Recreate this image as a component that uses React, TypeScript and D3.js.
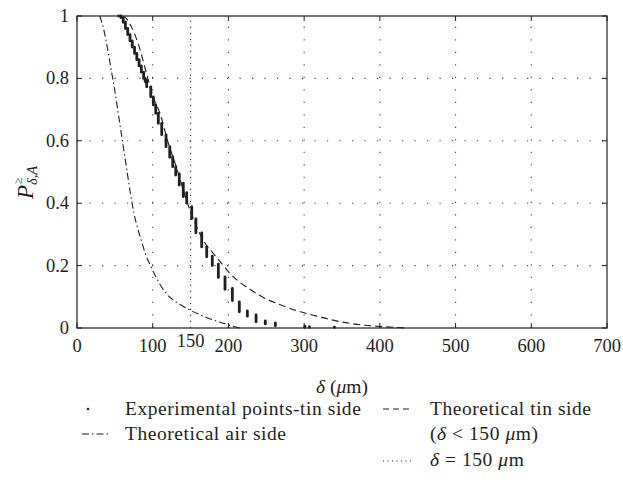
import React from "react";
import * as d3 from "d3";

// ---- data ----
const xTickValues = [0, 100, 200, 300, 400, 500, 600, 700];
const yTickValues = [0, 0.2, 0.4, 0.6, 0.8, 1];
const yTickLabels = ["0", "0.2", "0.4", "0.6", "0.8", "1"];
const gridX = [100, 200, 300, 400, 500, 600];
const gridY = [0.2, 0.4, 0.6, 0.8];
const deltaLine = 150;

// experimental points (tin side): each cluster at one δ spans P from high to low
const expDelta = [55, 58, 61, 64, 67, 70, 73, 76, 79, 82, 85, 88, 90, 92, 97.4, 100.8, 104, 107.4, 111.9, 117.6, 122.5, 126.4, 130.4, 135.1, 140.4, 144.9, 151.5, 157, 164.7, 171.3, 178.7, 186.7, 195.5, 205.2, 214.4, 225, 236.5, 248.7, 262, 301, 307, 340];
const expPHigh = [1.0, 1.0, 0.995, 0.98, 0.96, 0.94, 0.92, 0.9, 0.88, 0.86, 0.84, 0.82, 0.8, 0.795, 0.773, 0.741, 0.715, 0.688, 0.656, 0.619, 0.581, 0.549, 0.517, 0.494, 0.464, 0.434, 0.389, 0.35, 0.305, 0.26, 0.23, 0.205, 0.164, 0.127, 0.084, 0.055, 0.042, 0.023, 0.016, 0.006, 0.004, 0.003];
const expPLow = [1.0, 0.995, 0.98, 0.96, 0.94, 0.92, 0.9, 0.88, 0.86, 0.84, 0.82, 0.8, 0.79, 0.773, 0.741, 0.715, 0.688, 0.656, 0.619, 0.581, 0.547, 0.517, 0.49, 0.458, 0.421, 0.4, 0.351, 0.305, 0.26, 0.228, 0.2, 0.162, 0.124, 0.088, 0.052, 0.038, 0.02, 0.013, 0.007, 0.002, 0.002, 0.002];

// theoretical tin side (dashed)
const tinDelta = [60, 66, 72, 81, 93, 100, 110, 120, 130, 146, 157, 167, 180, 191, 202, 217, 231, 246, 266, 295, 317, 350, 380, 400, 420, 437];
const tinP = [1.0, 0.99, 0.965, 0.91, 0.805, 0.745, 0.685, 0.597, 0.525, 0.4, 0.33, 0.28, 0.239, 0.207, 0.175, 0.143, 0.12, 0.098, 0.077, 0.052, 0.038, 0.019, 0.009, 0.005, 0.002, 0.0];

// theoretical air side (dash-dot)
const airDelta = [30, 35, 40, 45, 50, 55, 60, 65, 70, 75, 80, 85, 90, 97, 105, 118, 130, 149, 175, 200, 215];
const airP = [1.0, 0.96, 0.9, 0.83, 0.76, 0.68, 0.6, 0.52, 0.44, 0.37, 0.32, 0.28, 0.24, 0.2, 0.16, 0.11, 0.085, 0.058, 0.03, 0.01, 0.0];

const legendLabels = ["Experimental points-tin side", "Theoretical air side", "Theoretical tin side"];

const FONT = "Liberation Serif";
const INK = "#231f20";
const FS = 18.5;
const LFS = 19.5;

export default function App() {
  const x = d3.scaleLinear().domain([0, 700]).range([77, 607]);
  const y = d3.scaleLinear().domain([0, 1]).range([328, 16]);

  const line = d3
    .line<[number, number]>()
    .x((d) => x(d[0]))
    .y((d) => y(d[1]))
    .curve(d3.curveMonotoneX);

  const tinPath = line(tinDelta.map((d, i) => [d, tinP[i]] as [number, number])) || "";
  const airPath = line(airDelta.map((d, i) => [d, airP[i]] as [number, number])) || "";

  const [x0, x1] = x.range();
  const [yb, yt] = y.range();
  const ts: React.CSSProperties = { fontFamily: FONT };
  const tsLeg: React.CSSProperties = { fontFamily: FONT, letterSpacing: "0.55px" };

  return (
    <svg width={623} height={484} style={{ position: "absolute", left: 0, top: 0, background: "#fff" }}>
      <rect x={0} y={0} width={623} height={484} fill="#fff" />
      {/* grid */}
      {gridY.map((v) => (
        <line key={"gy" + v} x1={x0} x2={x1} y1={y(v)} y2={y(v)} stroke="#444" strokeWidth={1.1} strokeDasharray="1.2,11.3" />
      ))}
      {gridX.map((v) => (
        <line key={"gx" + v} x1={x(v)} x2={x(v)} y1={yb} y2={yt} stroke="#444" strokeWidth={1.1} strokeDasharray="1.2,11.3" />
      ))}
      {/* δ = 150 line */}
      <line x1={x(deltaLine)} x2={x(deltaLine)} y1={yb} y2={yt} stroke="#333" strokeWidth={1.1} strokeDasharray="1.2,4.8" />

      {/* curves */}
      <path d={airPath} fill="none" stroke={INK} strokeWidth={1.1} strokeDasharray="7,3,1.5,3" />
      <path d={tinPath} fill="none" stroke={INK} strokeWidth={1.1} strokeDasharray="7,4" />

      {/* experimental points */}
      {expDelta.map((d, i) => (
        <line
          key={"e" + i}
          x1={x(d)}
          x2={x(d)}
          y1={y(expPHigh[i])}
          y2={y(expPLow[i])}
          stroke={INK}
          strokeWidth={2.8}
          strokeLinecap="round"
        />
      ))}

      {/* frame */}
      <rect x={x0} y={yt} width={x1 - x0} height={yb - yt} fill="none" stroke={INK} strokeWidth={1.2} />
      {/* ticks */}
      {xTickValues.map((v) => (
        <g key={"xt" + v}>
          <line x1={x(v)} x2={x(v)} y1={yb} y2={yb - 5} stroke={INK} strokeWidth={1} />
          <line x1={x(v)} x2={x(v)} y1={yt} y2={yt + 5} stroke={INK} strokeWidth={1} />
          <text x={x(v)} y={352} textAnchor="middle" fontSize={FS} fill={INK} style={ts}>
            {v}
          </text>
        </g>
      ))}
      <text x={x(deltaLine)} y={347} textAnchor="middle" fontSize={FS} fill={INK} style={ts}>
        {deltaLine}
      </text>
      {yTickValues.map((v, i) => (
        <g key={"yt" + v}>
          <line x1={x0} x2={x0 + 5} y1={y(v)} y2={y(v)} stroke={INK} strokeWidth={1} />
          <line x1={x1} x2={x1 - 5} y1={y(v)} y2={y(v)} stroke={INK} strokeWidth={1} />
          <text x={69} y={y(v) + 6} textAnchor="end" fontSize={FS} fill={INK} style={ts}>
            {yTickLabels[i]}
          </text>
        </g>
      ))}

      {/* axis titles */}
      <text x={(x0 + x1) / 2} y={393} textAnchor="middle" fontSize={LFS} fill={INK} style={ts}>
        <tspan fontStyle="italic">δ</tspan> (<tspan fontStyle="italic">μ</tspan>m)
      </text>
      <g transform="translate(33,199) rotate(-90)">
        <text x={0} y={0} fontSize={23} fontStyle="italic" fill={INK} style={ts}>P</text>
        <text x={15} y={-11} fontSize={12} fill={INK} style={ts}>≥</text>
        <text x={14} y={4} fontSize={14.5} fontStyle="italic" fill={INK} style={ts}>δ,A</text>
      </g>

      {/* legend */}
      <circle cx={88} cy={409} r={1.3} fill={INK} />
      <text x={125} y={415} fontSize={LFS} fill={INK} style={tsLeg}>{legendLabels[0]}</text>
      <line x1={82} x2={110} y1={434} y2={434} stroke={INK} strokeWidth={1.1} strokeDasharray="7,3,1.5,3" />
      <text x={125} y={440} fontSize={LFS} fill={INK} style={tsLeg}>{legendLabels[1]}</text>
      <line x1={383} x2={411} y1={409} y2={409} stroke={INK} strokeWidth={1.1} strokeDasharray="6,4" />
      <text x={430} y={415} fontSize={LFS} fill={INK} style={tsLeg}>{legendLabels[2]}</text>
      <text x={430} y={440} fontSize={LFS} fill={INK} style={tsLeg}>
        (<tspan fontStyle="italic">δ</tspan> &lt; 150 <tspan fontStyle="italic">μ</tspan>m)
      </text>
      <line x1={383} x2={411} y1={461} y2={461} stroke={INK} strokeWidth={1.1} strokeDasharray="1,3.5" />
      <text x={430} y={466} fontSize={LFS} fill={INK} style={tsLeg}>
        <tspan fontStyle="italic">δ</tspan> = 150 <tspan fontStyle="italic">μ</tspan>m
      </text>
    </svg>
  );
}
